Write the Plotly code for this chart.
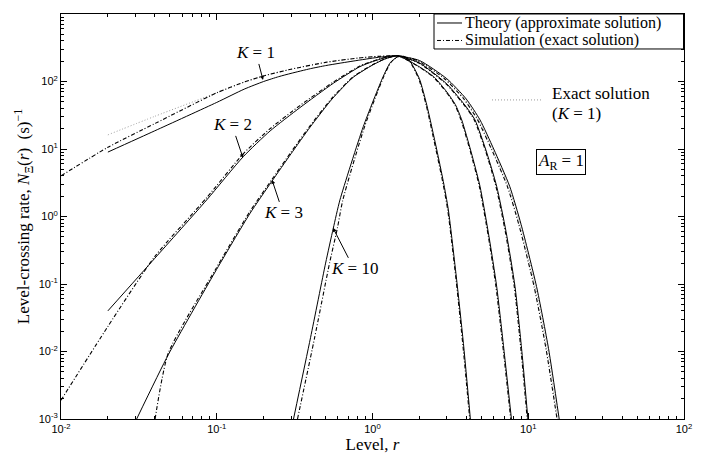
import plotly.graph_objects as go

# Level r (x) and level-crossing rate N(r) (y).

# K = 1
k1_theory_r = [0.02, 0.04, 0.1, 0.15, 0.2, 0.25, 0.3, 0.4, 0.5, 0.62, 0.83, 1.0, 1.2, 1.45,
               2.0, 3.0, 4.0, 4.9, 6.0, 7.6, 9.0, 11.3, 13.5, 15.8]
k1_theory_n = [9.0, 18.6, 49, 77, 100, 118, 132, 155, 172, 187, 208, 222, 234, 240,
               205, 110, 55, 27, 10, 2.8, 0.76, 0.092, 0.011, 0.001]
k1_sim_r = [0.01, 0.02, 0.04, 0.1, 0.15, 0.2, 0.3, 0.5, 0.8, 1.1, 1.45,
            1.93, 2.9, 3.86, 4.73, 5.8, 7.34, 8.7, 10.9, 13.0, 15.3]
k1_sim_n = [4.0, 10.6, 23.8, 68, 98, 121, 152, 192, 222, 236, 240,
            205, 110, 55, 27, 10, 2.8, 0.76, 0.092, 0.011, 0.001]
k1_exact_r = [0.02, 0.04, 0.1, 0.15, 0.2, 0.3, 0.5, 0.8, 1.1, 1.45,
              1.96, 2.95, 3.93, 4.81, 5.9, 7.47, 8.85, 11.1, 13.25, 15.5]
k1_exact_n = [16.2, 30.5, 68, 98, 121, 152, 192, 222, 236, 240,
              205, 110, 55, 27, 10, 2.8, 0.76, 0.092, 0.011, 0.001]

# K = 2
k2_theory_r = [0.02, 0.04, 0.0862, 0.148, 0.22, 0.342, 0.56, 0.83, 1.0, 1.2, 1.45,
               2.0, 3.0, 4.0, 4.55, 5.4, 6.27, 7.2, 8.22, 9.1, 9.95]
k2_theory_n = [0.04, 0.24, 1.76, 7.7, 18.5, 41, 94, 166, 197, 225, 240,
               188, 92, 42, 27, 9, 2.8, 0.6, 0.092, 0.01, 0.001]
k2_sim_r = [0.01, 0.02, 0.04, 0.0862, 0.148, 0.22, 0.342, 0.56, 0.83, 1.0, 1.2, 1.45,
            1.98, 2.97, 3.96, 4.5, 5.35, 6.2, 7.12, 8.13, 9.0, 9.85]
k2_sim_n = [0.0019, 0.0235, 0.255, 1.9, 8.5, 20, 44, 98, 170, 200, 227, 240,
            188, 92, 42, 27, 9, 2.8, 0.6, 0.092, 0.01, 0.001]

# K = 3
k3_theory_r = [0.0306, 0.0489, 0.0975, 0.163, 0.2253, 0.3, 0.397, 0.55, 0.75, 1.0, 1.2, 1.45,
               2.0, 2.5, 3.0, 3.4, 3.74, 4.3, 4.9, 5.6, 6.27, 7.0, 7.8]
k3_theory_n = [0.001, 0.009, 0.15, 1.1, 3.3, 8.5, 21, 55, 115, 175, 215, 240,
               165, 115, 70, 45.7, 27, 9, 2.8, 0.5, 0.092, 0.01, 0.001]
k3_sim_r = [0.0402, 0.0489, 0.0975, 0.163, 0.2253, 0.3, 0.397, 0.55, 0.75, 1.0, 1.2, 1.45,
            1.98, 2.47, 2.97, 3.37, 3.7, 4.26, 4.85, 5.55, 6.2, 6.93, 7.72]
k3_sim_n = [0.001, 0.0095, 0.16, 1.18, 3.5, 9, 22, 57, 117, 177, 216, 240,
            165, 115, 70, 45.7, 27, 9, 2.8, 0.5, 0.092, 0.01, 0.001]

# K = 10
k10_theory_r = [0.311, 0.4, 0.5, 0.56, 0.618, 0.873, 1.17, 1.3, 1.45, 1.6, 1.74,
                2.0, 2.23, 2.58, 2.85, 3.07, 3.47, 3.85, 4.25]
k10_theory_n = [0.001, 0.016, 0.204, 0.67, 1.76, 21.5, 118, 190, 232, 235, 200,
                110, 45, 10, 3.3, 1.25, 0.115, 0.012, 0.001]
k10_sim_r = [0.33, 0.425, 0.53, 0.595, 0.645, 0.89, 1.18, 1.31, 1.45, 1.59, 1.73,
             1.98, 2.21, 2.55, 2.82, 3.04, 3.44, 3.81, 4.21]
k10_sim_n = [0.001, 0.016, 0.204, 0.67, 1.76, 21.5, 118, 190, 232, 235, 200,
             110, 45, 10, 3.3, 1.25, 0.115, 0.012, 0.001]

x_tickvals = [0.01, 0.1, 1, 10, 100]
x_ticktext = ["10<sup>-2</sup>", "10<sup>-1</sup>", "10<sup>0</sup>", "10<sup>1</sup>", "10<sup>2</sup>"]
y_tickvals = [0.001, 0.01, 0.1, 1, 10, 100, 1000]
y_ticktext = ["10<sup>-3</sup>", "10<sup>-2</sup>", "10<sup>-1</sup>", "10<sup>0</sup>",
              "10<sup>1</sup>", "10<sup>2</sup>", "10<sup>3</sup>"]

legend_labels = ["Theory (approximate solution)", "Simulation (exact solution)"]

SERIF = "Liberation Serif, DejaVu Serif, serif"
SANS = "Liberation Sans, Arial, sans-serif"
SIM_DASH = "4px,2px,1px,2px"
EXACT_DASH = "1px,2px"
EXACT_COLOR = "#9a9a9a"

# страница рисует график со сдвигом 8 px (отступ body) — фигура чуть меньше окна
FIG_W, FIG_H = 699, 447
M_L, M_R, M_T, M_B = 53, 23, 6, 36


def minor_ticks(decades):
    return [m * d for d in decades[:-1] for m in range(2, 10)]


fig = go.Figure()

# точное решение K=1 — серая пунктирная, под остальными
fig.add_trace(go.Scatter(x=k1_exact_r, y=k1_exact_n, mode="lines", name="Exact solution (K = 1)",
                         line=dict(color=EXACT_COLOR, width=1, dash=EXACT_DASH, shape="spline", smoothing=0.6)))

curves = [
    ("1", k1_theory_r, k1_theory_n, k1_sim_r, k1_sim_n),
    ("2", k2_theory_r, k2_theory_n, k2_sim_r, k2_sim_n),
    ("3", k3_theory_r, k3_theory_n, k3_sim_r, k3_sim_n),
    ("10", k10_theory_r, k10_theory_n, k10_sim_r, k10_sim_n),
]
for k, tr, tn, sr, sn in curves:
    fig.add_trace(go.Scatter(x=sr, y=sn, mode="lines", name=f"{legend_labels[1]}, K = {k}",
                             line=dict(color="black", width=1.1, dash=SIM_DASH, shape="spline", smoothing=0.6)))
    fig.add_trace(go.Scatter(x=tr, y=tn, mode="lines", name=f"{legend_labels[0]}, K = {k}",
                             line=dict(color="black", width=1, shape="spline", smoothing=0.6)))

axis_common = dict(
    type="log", showline=True, linecolor="black", linewidth=1, mirror="ticks",
    ticks="inside", ticklen=6, tickcolor="black", showgrid=False, zeroline=False,
    tickmode="array", tickfont=dict(family=SANS, size=11, color="black"), automargin=False,
)

fig.update_xaxes(**axis_common, range=[-2, 2], tickvals=x_tickvals, ticktext=x_ticktext,
                 minor=dict(ticks="inside", ticklen=3, tickcolor="black", showgrid=False,
                            tickvals=minor_ticks(x_tickvals)),
                 title=dict(text="Level, <i>r</i>", font=dict(family=SERIF, size=17, color="black"), standoff=0))
fig.update_yaxes(**axis_common, range=[-3, 3], tickvals=y_tickvals, ticktext=y_ticktext,
                 minor=dict(ticks="inside", ticklen=3, tickcolor="black", showgrid=False,
                            tickvals=minor_ticks(y_tickvals)),
                 title=dict(text="Level-crossing rate, <i>N</i><sub>Ξ</sub>(<i>r</i>)  (s)<sup>−1</sup>",
                            font=dict(family=SERIF, size=17, color="black"), standoff=4))

# пиксели эталона -> доли области построения
PLOT_X0, PLOT_X1, PLOT_Y0, PLOT_Y1 = 61, 684, 14, 419.3


def paper_x(px):
    return (px - PLOT_X0) / (PLOT_X1 - PLOT_X0)


def paper_y(py):
    return (PLOT_Y1 - py) / (PLOT_Y1 - PLOT_Y0)


ann_font = dict(family=SERIF, size=17, color="black")
legend_font = dict(family=SERIF, size=16, color="black")

# --- легенда: рамка в правом верхнем углу, как в эталоне ---
fig.add_shape(type="rect", xref="paper", yref="paper",
              x0=paper_x(434), x1=paper_x(683.5), y0=paper_y(49), y1=paper_y(14),
              line=dict(color="black", width=1), fillcolor="white", layer="above")
legend_rows = [(legend_labels[0], 23, None), (legend_labels[1], 40.5, SIM_DASH)]
for text, py, dash in legend_rows:
    fig.add_shape(type="line", xref="paper", yref="paper",
                  x0=paper_x(437), x1=paper_x(462), y0=paper_y(py), y1=paper_y(py),
                  line=dict(color="black", width=1, dash=dash or "solid"), layer="above")
    fig.add_annotation(x=paper_x(463), y=paper_y(py), xref="paper", yref="paper", text=text,
                       showarrow=False, xanchor="left", yanchor="middle", font=legend_font)

labels = [
    ("<i>K</i> = 1", 263, 80, -7, -27),
    ("<i>K</i> = 2", 243, 158, -11, -33),
    ("<i>K</i> = 3", 272, 180, 11, 33),
    ("<i>K</i> = 10", 333, 228, 21, 41),
]
for text, px, py, ax, ay in labels:
    fig.add_annotation(x=paper_x(px), y=paper_y(py), xref="paper", yref="paper", text=text,
                       showarrow=True, ax=ax, ay=ay, arrowhead=2, arrowsize=0.8, arrowwidth=1,
                       arrowcolor="black", font=ann_font)

fig.add_annotation(x=paper_x(550), y=paper_y(94), xref="paper", yref="paper", text="Exact solution",
                   showarrow=False, xanchor="left", yanchor="middle", font=ann_font)
fig.add_annotation(x=paper_x(550), y=paper_y(114), xref="paper", yref="paper", text="(<i>K</i> = 1)",
                   showarrow=False, xanchor="left", yanchor="middle", font=ann_font)
fig.add_shape(type="line", xref="paper", yref="paper", x0=paper_x(492), x1=paper_x(541),
              y0=paper_y(100), y1=paper_y(100), line=dict(color=EXACT_COLOR, width=1, dash=EXACT_DASH))
fig.add_annotation(x=paper_x(586), y=paper_y(162), xref="paper", yref="paper",
                   text="<i>A</i><sub>R</sub> = 1", showarrow=False, font=ann_font,
                   bordercolor="black", borderwidth=1, borderpad=1, bgcolor="white")

fig.update_layout(
    width=FIG_W, height=FIG_H,
    margin=dict(l=M_L, r=M_R, t=M_T, b=M_B, autoexpand=False),
    paper_bgcolor="white", plot_bgcolor="white",
    showlegend=False,
    font=dict(family=SERIF, color="black"),
)

fig.write_html("out.html")
